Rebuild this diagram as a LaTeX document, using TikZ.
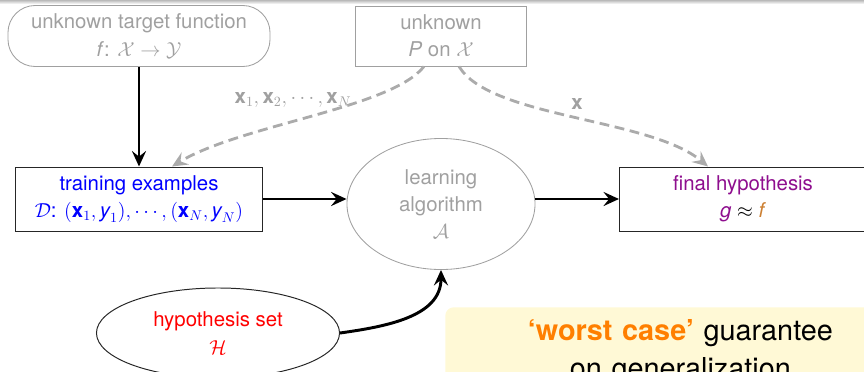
\documentclass[tikz,border=0pt]{standalone}
\usepackage{fontspec}
\setmainfont{TeX Gyre Heros}
\usetikzlibrary{shapes.geometric,arrows.meta}

\definecolor{fadedgray}{HTML}{A0A0A0}
\definecolor{dashgray}{HTML}{ABABAB}
\definecolor{hypviolet}{HTML}{8E0E8E}
\definecolor{targetorange}{HTML}{CC8033}
\definecolor{warnorange}{HTML}{FF7F00}
\definecolor{noteyellow}{HTML}{FFF9D6}

\newcommand{\bx}{\textbf{x}}

\tikzset{
  every node/.style={font=\fontsize{14.5}{19.5}\selectfont, align=center},
  unknownbox/.style={draw=fadedgray, text=fadedgray, line width=0.6pt},
  knownbox/.style={draw=black!85, line width=0.7pt},
  flow/.style={line width=2.1pt, -{Stealth[length=11pt,width=10pt,inset=4pt]}},
  dataflow/.style={dashgray, line width=2pt, dash pattern=on 7pt off 4pt,
    -{Stealth[length=11pt,width=10pt,inset=4pt]}}
}

\begin{document}
\begin{tikzpicture}[x=0.025cm, y=-0.025cm]
  \useasboundingbox (0,0) rectangle (864,371);
  % thin header shadow at the top of the slide
  \shade [top color=gray!55, bottom color=white] (0,0) rectangle (864,4);

  % the unknowns
  \node [unknownbox, rounded corners=0.68cm, minimum width=6.55cm, minimum height=1.525cm]
    (target) at (139,36) {unknown target function\\ \textit{f}: $\mathcal{X} \rightarrow \mathcal{Y}$};
  \node [unknownbox, minimum width=4.275cm, minimum height=1.5cm]
    (pdist) at (441,36) {unknown\\ \textit{P} on $\mathcal{X}$};

  % the learning pipeline
  \node [knownbox, text=blue, minimum width=6.175cm, minimum height=1.6cm]
    (train) at (139,199) {training examples\\ $\mathcal{D}$: $(\bx_1, \textit{y}_1), \cdots, (\bx_N, \textit{y}_N)$};
  \node [unknownbox, ellipse, minimum width=4.7cm, minimum height=3.275cm]
    (alg) at (441,204) {learning\\ algorithm\\ $\mathcal{A}$};
  \node [knownbox, text=hypviolet, minimum width=6.175cm, minimum height=1.6cm]
    (final) at (743,199) {final hypothesis\\ \textit{g} {\color{black}$\approx$} \textcolor{targetorange}{\textit{f}}};
  \node [knownbox, ellipse, text=red, minimum width=6.075cm, minimum height=2.25cm]
    (hyp) at (218,333) {hypothesis set\\ $\mathcal{H}$};

  % solid connectors
  \draw [flow] (target) -- (train);
  \draw [flow] (train.east) -- (train.east -| alg.west);
  \draw [flow] (final.west -| alg.east) -- (final.west);
  \draw [flow] (hyp.east) to [out=8, in=-90] (alg.south);

  % sampling from P
  \draw [dataflow] ([xshift=-0.425cm]pdist.south)
    .. controls (392,108) and (240,125) .. ([xshift=0.825cm]train.north);
  \draw [dataflow] ([xshift=0.45cm]pdist.south)
    .. controls (490,118) and (650,118) .. ([xshift=-0.875cm]final.north);
  \node [text=fadedgray] (xsample) at (293,100) {$\bx_1, \bx_2, \cdots, \bx_N$};
  \node [text=fadedgray] (xone) at (577,104) {\bx};

  % the note
  \node [fill=noteyellow, rounded corners=6pt, anchor=north west, minimum width=11.75cm,
    minimum height=3cm, text width=11cm, inner ysep=9pt, align=center,
    font=\fontsize{20.5}{27}\selectfont]
    (note) at (445,307) {\textcolor{warnorange}{\textbf{`worst case'}} guarantee\\ on generalization\\ \mbox{}};
\end{tikzpicture}
\end{document}
